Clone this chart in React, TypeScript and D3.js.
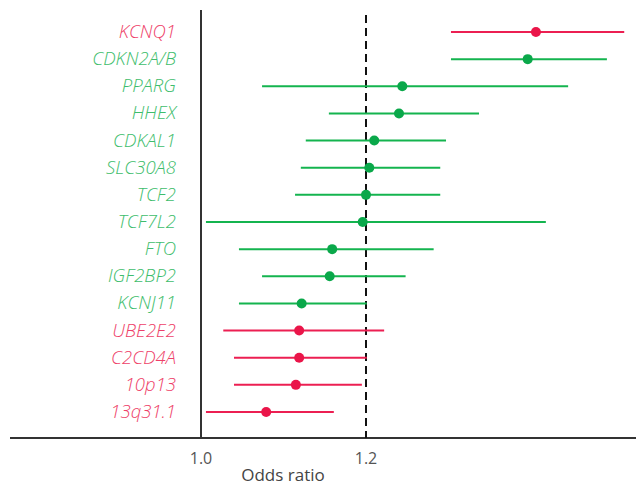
import * as d3 from "d3";
import { useEffect, useRef } from "react";

const genes = ["KCNQ1", "CDKN2A/B", "PPARG", "HHEX", "CDKAL1", "SLC30A8", "TCF2", "TCF7L2", "FTO", "IGF2BP2", "KCNJ11", "UBE2E2", "C2CD4A", "10p13", "13q31.1"];
const groups = ["new", "known", "known", "known", "known", "known", "known", "known", "known", "known", "known", "new", "new", "new", "new"];
const oddsRatio = [1.406, 1.396, 1.244, 1.240, 1.210, 1.204, 1.200, 1.196, 1.159, 1.156, 1.122, 1.119, 1.119, 1.115, 1.079];
const lower = [1.303, 1.303, 1.074, 1.155, 1.127, 1.121, 1.114, 1.006, 1.046, 1.074, 1.046, 1.027, 1.040, 1.040, 1.006];
const upper = [1.513, 1.492, 1.445, 1.337, 1.297, 1.290, 1.290, 1.418, 1.282, 1.248, 1.201, 1.222, 1.201, 1.195, 1.161];
const tickValues = [1.0, 1.2];

const lineColor = { new: "#ec1f52", known: "#14b44f" };
const dotColor = { new: "#ea1549", known: "#0aa84a" };
const textColor = { new: "#ee3f69", known: "#3ebd6c" };

const App = () => {
    const ref = useRef<SVGSVGElement>(null);

    useEffect(() => {
        const width = 636, height = 486;
        const svg = d3.select(ref.current);
        svg.selectAll("*").remove();
        svg.attr("width", width).attr("height", height);

        const x = d3.scaleLinear().domain([1.0, 1.2]).range([201, 366]);
        const y = d3.scalePoint().domain(genes).range([32, 412]);
        const axisY = 438;
        const font = "'Open Sans', 'Segoe UI', sans-serif";

        const rows = genes.map((g, i) => ({
            gene: g, group: groups[i], or: oddsRatio[i], lo: lower[i], hi: upper[i]
        }));

        // axes
        svg.append("line")
            .attr("x1", 10).attr("x2", width)
            .attr("y1", axisY).attr("y2", axisY)
            .attr("stroke", "#333").attr("stroke-width", 2);
        svg.append("line")
            .attr("x1", x(1.0)).attr("x2", x(1.0))
            .attr("y1", 10).attr("y2", axisY)
            .attr("stroke", "#333").attr("stroke-width", 2);

        // reference line
        svg.append("line")
            .attr("x1", x(1.2)).attr("x2", x(1.2))
            .attr("y1", 15).attr("y2", axisY)
            .attr("stroke", "#111").attr("stroke-width", 2)
            .attr("stroke-dasharray", "8,5");

        svg.selectAll("text.tick")
            .data(tickValues)
            .enter()
            .append("text")
            .attr("class", "tick")
            .attr("x", d => x(d))
            .attr("y", 464)
            .attr("text-anchor", "middle")
            .attr("font-family", font)
            .attr("font-size", 16)
            .attr("fill", "#555")
            .text(d => d.toFixed(1));

        svg.append("text")
            .attr("x", 283).attr("y", 481)
            .attr("text-anchor", "middle")
            .attr("font-family", font)
            .attr("font-size", 17)
            .attr("fill", "#444")
            .text("Odds ratio");

        const row = svg.selectAll("g.row")
            .data(rows)
            .enter()
            .append("g")
            .attr("class", "row");

        row.append("line")
            .attr("x1", d => x(d.lo)).attr("x2", d => x(d.hi))
            .attr("y1", d => y(d.gene)!).attr("y2", d => y(d.gene)!)
            .attr("stroke", d => lineColor[d.group as "new" | "known"])
            .attr("stroke-width", 2);

        row.append("circle")
            .attr("cx", d => x(d.or))
            .attr("cy", d => y(d.gene)!)
            .attr("r", 5)
            .attr("fill", d => dotColor[d.group as "new" | "known"]);

        row.append("text")
            .attr("x", 176)
            .attr("y", d => y(d.gene)! + 6)
            .attr("text-anchor", "end")
            .attr("font-family", font)
            .attr("font-style", "italic")
            .attr("font-weight", 300)
            .attr("font-size", 18.5)
            .attr("fill", d => textColor[d.group as "new" | "known"])
            .text(d => d.gene);
    }, []);

    return <svg ref={ref} style={{ position: "absolute", left: 0, top: 0 }}></svg>;
};

export default App;
